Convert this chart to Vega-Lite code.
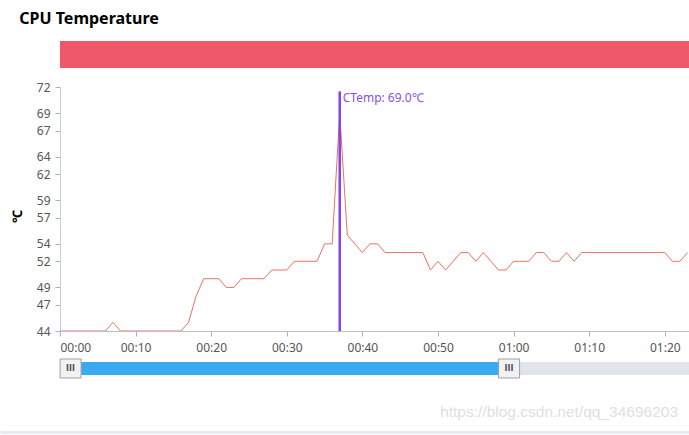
{
  "$schema": "https://vega.github.io/schema/vega-lite/v6.json",
  "background": "white",
  "autosize": {"type": "pad"},
  "padding": {"left": 0, "top": 11, "right": 0, "bottom": 0},
  "title": {"text": "CPU Temperature", "anchor": "start", "frame": "bounds", "font": "Noto Sans", "fontSize": 16, "fontWeight": "bold", "color": "#000000", "dx": 19, "offset": 14},
  "config": {"view": {"stroke": null}, "font": "Noto Sans"},
  "spacing": 0,
  "bounds": "flush",
  "datasets": {
    "temps": [
      {"t": 0, "v": 44}, {"t": 1, "v": 44}, {"t": 2, "v": 44}, {"t": 3, "v": 44}, {"t": 4, "v": 44}, {"t": 5, "v": 44}, {"t": 6, "v": 44},
      {"t": 7, "v": 45}, {"t": 8, "v": 44}, {"t": 9, "v": 44}, {"t": 10, "v": 44}, {"t": 11, "v": 44}, {"t": 12, "v": 44}, {"t": 13, "v": 44},
      {"t": 14, "v": 44}, {"t": 15, "v": 44}, {"t": 16, "v": 44}, {"t": 17, "v": 45}, {"t": 18, "v": 48}, {"t": 19, "v": 50}, {"t": 20, "v": 50},
      {"t": 21, "v": 50}, {"t": 22, "v": 49}, {"t": 23, "v": 49}, {"t": 24, "v": 50}, {"t": 25, "v": 50}, {"t": 26, "v": 50}, {"t": 27, "v": 50},
      {"t": 28, "v": 51}, {"t": 29, "v": 51}, {"t": 30, "v": 51}, {"t": 31, "v": 52}, {"t": 32, "v": 52}, {"t": 33, "v": 52}, {"t": 34, "v": 52},
      {"t": 35, "v": 54}, {"t": 36, "v": 54}, {"t": 37, "v": 69}, {"t": 38, "v": 55}, {"t": 39, "v": 54}, {"t": 40, "v": 53}, {"t": 41, "v": 54},
      {"t": 42, "v": 54}, {"t": 43, "v": 53}, {"t": 44, "v": 53}, {"t": 45, "v": 53}, {"t": 46, "v": 53}, {"t": 47, "v": 53}, {"t": 48, "v": 53},
      {"t": 49, "v": 51}, {"t": 50, "v": 52}, {"t": 51, "v": 51}, {"t": 52, "v": 52}, {"t": 53, "v": 53}, {"t": 54, "v": 53}, {"t": 55, "v": 52},
      {"t": 56, "v": 53}, {"t": 57, "v": 52}, {"t": 58, "v": 51}, {"t": 59, "v": 51}, {"t": 60, "v": 52}, {"t": 61, "v": 52}, {"t": 62, "v": 52},
      {"t": 63, "v": 53}, {"t": 64, "v": 53}, {"t": 65, "v": 52}, {"t": 66, "v": 52}, {"t": 67, "v": 53}, {"t": 68, "v": 52}, {"t": 69, "v": 53},
      {"t": 70, "v": 53}, {"t": 71, "v": 53}, {"t": 72, "v": 53}, {"t": 73, "v": 53}, {"t": 74, "v": 53}, {"t": 75, "v": 53}, {"t": 76, "v": 53},
      {"t": 77, "v": 53}, {"t": 78, "v": 53}, {"t": 79, "v": 53}, {"t": 80, "v": 53}, {"t": 81, "v": 52}, {"t": 82, "v": 52}, {"t": 83, "v": 53}
    ],
    "marker": [{"t": 37, "v": 69, "top": 71.5, "base": 44, "label": "CTemp: 69.0℃"}],
    "window": [{"start": 1.4, "end": 59.4}],
    "handles": [{"t": 1.4}, {"t": 59.4}]
  },
  "vconcat": [
    {
      "width": 629, "height": 27,
      "data": {"values": [{"band": "alarm"}]},
      "mark": {"type": "rect", "fill": "#ee5868"},
      "encoding": {}
    },
    {"width": 629, "height": 19, "data": {"values": []}, "mark": "point"},
    {
      "width": 629, "height": 244,
      "layer": [
        {
          "data": {"name": "temps"},
          "mark": {"type": "line", "color": "#e8735e", "strokeWidth": 1, "clip": true},
          "encoding": {
            "x": {
              "field": "t", "type": "quantitative",
              "scale": {"domain": [0, 83.2], "nice": false, "zero": false},
              "axis": {
                "values": [0, 10, 20, 30, 40, 50, 60, 70, 80], "tickCount": 20,
                "labelExpr": "(floor(datum.value/60)<10?'0':'')+floor(datum.value/60)+':'+(datum.value%60<10?'0':'')+(datum.value%60)",
                "grid": false, "title": null,
                "domainColor": "#b9c0cc", "tickColor": "#a9b1bf", "tickSize": 5,
                "labelPadding": 6, "labelFont": "Noto Sans", "labelFontSize": 12, "labelColor": "#555555",
                "labelFlush": true, "labelOverlap": false
              }
            },
            "y": {
              "field": "v", "type": "quantitative",
              "scale": {"domain": [44, 72], "nice": false, "zero": false},
              "axis": {
                "values": [44, 47, 49, 52, 54, 57, 59, 62, 64, 67, 69, 72], "tickCount": 30,
                "grid": false, "title": "℃",
                "domainColor": "#ccd2dc", "tickColor": "#a9b1bf", "tickSize": 5,
                "labelPadding": 5, "labelFont": "Noto Sans", "labelFontSize": 12, "labelColor": "#555555", "labelOverlap": false,
                "titleFont": "Noto Sans", "titleFontSize": 13, "titleFontWeight": "bold", "titleColor": "#000000",
                "titleAngle": 270, "titleAlign": "center", "titleBaseline": "middle", "titleX": -43, "titleY": 129
              }
            }
          }
        },
        {
          "data": {"name": "marker"},
          "mark": {"type": "rule", "color": "#8a44e0", "strokeWidth": 2.5},
          "encoding": {
            "x": {"field": "t", "type": "quantitative"},
            "y": {"field": "top", "type": "quantitative"},
            "y2": {"field": "base"}
          }
        },
        {
          "data": {"name": "marker"},
          "mark": {"type": "text", "align": "left", "baseline": "alphabetic", "dx": 3, "dy": -11, "color": "#8a4fe0", "font": "Noto Sans", "fontSize": 12},
          "encoding": {
            "x": {"field": "t", "type": "quantitative"},
            "y": {"field": "v", "type": "quantitative"},
            "text": {"field": "label"}
          }
        }
      ]
    },
    {"width": 629, "height": 31, "data": {"values": []}, "mark": "point"},
    {
      "width": 629, "height": 13,
      "layer": [
        {
          "data": {"values": [{"band": "track"}]},
          "mark": {"type": "rect", "fill": "#e1e4e9"},
          "encoding": {}
        },
        {
          "data": {"name": "window"},
          "mark": {"type": "rect", "fill": "#3aaaf0"},
          "encoding": {
            "x": {"field": "start", "type": "quantitative", "scale": {"domain": [0, 83.2], "nice": false, "zero": false}, "axis": null},
            "x2": {"field": "end"}
          }
        },
        {
          "data": {"name": "handles"},
          "mark": {"type": "point", "shape": "M-1,-0.905L1,-0.905L1,0.905L-1,0.905Z", "size": 441, "filled": true, "fill": "#f2f2f2", "stroke": "#a0a0a0", "strokeWidth": 1, "opacity": 1},
          "encoding": {"x": {"field": "t", "type": "quantitative"}}
        },
        {
          "data": {"name": "handles"},
          "mark": {"type": "text", "text": "III", "font": "DejaVu Sans", "fontSize": 8, "fontWeight": "bold", "color": "#555555", "baseline": "middle", "align": "center"},
          "encoding": {"x": {"field": "t", "type": "quantitative"}}
        }
      ]
    },
    {"width": 629, "height": 56, "data": {"values": []}, "mark": "point"},
    {
      "width": 629, "height": 3,
      "layer": [
        {
          "data": {"values": [{"band": "footer"}]},
          "mark": {"type": "rect", "fill": "#e8eaf6"},
          "encoding": {
            "x": {"datum": -7.9, "type": "quantitative", "scale": {"domain": [0, 83.2], "nice": false, "zero": false}, "axis": null},
            "x2": {"datum": 83.2}
          }
        },
        {
          "data": {"values": [{"text": "https://blog.csdn.net/qq_34696203"}]},
          "mark": {"type": "text", "align": "right", "baseline": "alphabetic", "dx": -11, "dy": -15.5, "font": "Liberation Sans", "fontSize": 15.5, "color": "#e0e0e0"},
          "encoding": {
            "x": {"datum": 83.2, "type": "quantitative"},
            "text": {"field": "text"}
          }
        }
      ]
    }
  ]
}
